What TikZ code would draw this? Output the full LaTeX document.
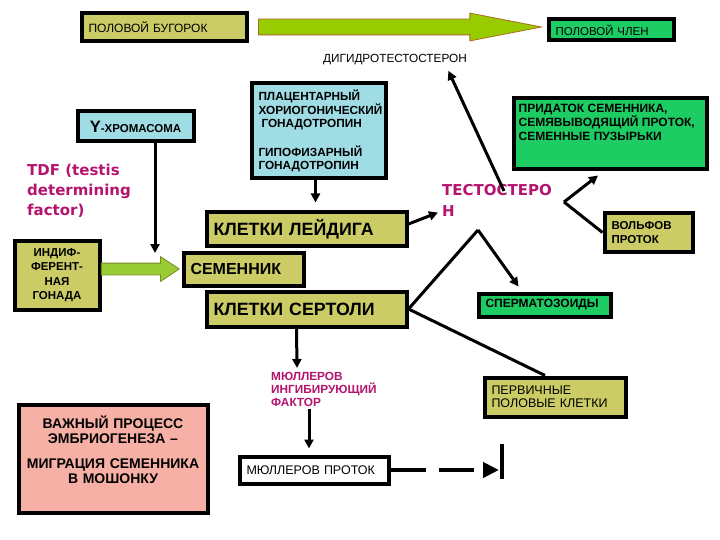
\documentclass[tikz,border=0pt]{standalone}
\usepackage{fontspec}
\setmainfont{Liberation Sans}
\newfontfamily\tdffont{DejaVu Sans}
\usepackage{tikz}
\usetikzlibrary{arrows.meta,shapes.arrows,positioning,calc}

\definecolor{olivefill}{RGB}{204,204,102}
\definecolor{greenfill}{RGB}{30,204,100}
\definecolor{bluefill}{RGB}{160,220,228}
\definecolor{pinkfill}{RGB}{247,176,166}
\definecolor{limefill}{RGB}{153,204,0}
\definecolor{limeedge}{RGB}{170,110,30}
\definecolor{gonfill}{RGB}{153,204,51}
\definecolor{gonedge}{RGB}{120,140,40}
\definecolor{magtxt}{RGB}{180,20,110}

\begin{document}
\begin{tikzpicture}[
        x=1pt, y=-1pt,
        box/.style={draw, line width=4pt, inner xsep=7pt, inner ysep=2pt, align=left, font=\bfseries\fontsize{11}{13}\selectfont},
        olivebox/.style={box, fill=olivefill},
        greenbox/.style={box, fill=greenfill},
        bluebox/.style={box, fill=bluefill},
        pinkbox/.style={box, fill=pinkfill},
        whitebox/.style={box, fill=white},
        magtext/.style={text=magtxt, inner sep=0pt, align=left},
        fatarrow/.style={single arrow, line width=0.8pt, single arrow head indent=0pt, inner xsep=0pt, anchor=east},
        arr/.style={-{Triangle[length=9pt,width=9pt]}, line width=3pt},
        link/.style={line width=3pt},
    ]

        \fill[white] (0,0) rectangle (720,540);

        % top row
        \node[olivebox, minimum width=165pt, minimum height=28pt, text width=151pt, font=\fontsize{12}{14}\selectfont] (bug) at (164,27.5) {ПОЛОВОЙ БУГОРОК};
        \node[greenbox, minimum width=125pt, minimum height=21pt, text width=111pt, font=\fontsize{11.5}{13}\selectfont] (chlen) at (611,30) {ПОЛОВОЙ ЧЛЕН};
        \node[fatarrow, draw=limeedge, fill=limefill, minimum height=283pt, minimum width=27pt, single arrow head extend=6pt, single arrow tip angle=22, inner ysep=7.5pt] (dharrow) at ($(chlen.west)+(-3,-3)$) {};
        \node[font=\fontsize{11.8}{13}\selectfont] (dht) at (395,60) {ДИГИДРОТЕСТОСТЕРОН};

        % left column
        \node[bluebox, minimum width=116pt, minimum height=30pt, text width=102pt, align=center] (ychr) at (135.5,126.5) {{\fontsize{16.5}{17}\selectfont Y}{\fontsize{11.5}{12}\selectfont -ХРОМАСОМА}};
        \node[magtext, font=\tdffont\bfseries\fontsize{15}{20}\selectfont, anchor=north west] (tdf) at (27,164) {TDF (testis\\determining\\factor)};
        \node[olivebox, minimum width=85pt, minimum height=69pt, text width=71pt, align=center, font=\bfseries\fontsize{11.5}{14.5}\selectfont] (gonad) at (57,275) {ИНДИФ-\\ФЕРЕНТ-\\НАЯ\\ГОНАДА};

        % testis and its cells
        \node[olivebox, minimum width=120pt, minimum height=33pt, text width=106pt, font=\bfseries\fontsize{16}{17}\selectfont] (semen) at (243.5,269) {СЕМЕННИК};
        \node[fatarrow, draw=gonedge, fill=gonfill, minimum height=78pt, minimum width=24pt, single arrow head extend=6.5pt, single arrow tip angle=67, inner ysep=5.5pt] (gonarrow) at ($(semen.west)+(-1.5,0)$) {};
        \node[olivebox, minimum width=200pt, minimum height=33pt, text width=186pt, font=\bfseries\fontsize{17.8}{19}\selectfont] (leydig) at (306.5,229) {КЛЕТКИ ЛЕЙДИГА};
        \node[olivebox, minimum width=200pt, minimum height=35pt, text width=186pt, font=\bfseries\fontsize{17.8}{19}\selectfont] (sertoli) at (306.5,309) {КЛЕТКИ СЕРТОЛИ};
        \node[bluebox, minimum width=134pt, minimum height=95pt, text width=120pt, font=\bfseries\fontsize{11.8}{13.5}\selectfont] (gtropin) at (318.5,131) {ПЛАЦЕНТАРНЫЙ\\ХОРИОГОНИЧЕСКИЙ\\\hspace*{3pt}ГОНАДОТРОПИН\\[15pt]ГИПОФИЗАРНЫЙ\\ГОНАДОТРОПИН};

        % right side
        \node[greenbox, minimum width=193pt, minimum height=71pt,
            label={[anchor=north west, xshift=7pt, yshift=-7pt, inner sep=0pt, align=left, font=\bfseries\fontsize{12}{14}\selectfont]north west:{ПРИДАТОК СЕМЕННИКА,\\СЕМЯВЫВОДЯЩИЙ ПРОТОК,\\СЕМЕННЫЕ ПУЗЫРЬКИ}}] (prid) at (610,134) {};
        \node[olivebox, minimum width=88pt, minimum height=38pt, text width=74pt, font=\bfseries\fontsize{11.5}{14}\selectfont] (wolff) at (648.5,232.5) {ВОЛЬФОВ\\ПРОТОК};
        \node[magtext, font=\tdffont\bfseries\fontsize{15}{21}\selectfont, anchor=north west] (testo) at (442,184) {ТЕСТОСТЕРО\\Н};
        \node[greenbox, minimum width=132pt, minimum height=23pt, text width=118pt, font=\bfseries\fontsize{12}{13}\selectfont] (sperm) at (544.5,305) {СПЕРМАТОЗОИДЫ};
        \node[olivebox, minimum width=141pt, minimum height=39pt, text width=127pt, font=\fontsize{12.5}{13.5}\selectfont] (pgc) at (555,397) {ПЕРВИЧНЫЕ\\ПОЛОВЫЕ КЛЕТКИ};

        % bottom
        \node[magtext, font=\bfseries\fontsize{11.8}{13}\selectfont, anchor=north west] (mif) at (271,372) {МЮЛЛЕРОВ\\ИНГИБИРУЮЩИЙ\\ФАКТОР};
        \node[whitebox, minimum width=149pt, minimum height=27pt, text width=135pt, font=\fontsize{12.5}{14}\selectfont] (muller) at (314,470) {МЮЛЛЕРОВ ПРОТОК};
        \node[pinkbox, minimum width=189pt, minimum height=108pt, text width=175pt, align=center, font=\bfseries\fontsize{14}{15.5}\selectfont] (migr) at (113,458.5) {ВАЖНЫЙ ПРОЦЕСС\\ЭМБРИОГЕНЕЗА –\\[9pt]МИГРАЦИЯ СЕМЕННИКА\\В МОШОНКУ\\[2pt]\mbox{}};

        \coordinate (yend) at (155,253);
        \coordinate (tfork) at (564,202);
        \coordinate (speak) at (478,230);
        \coordinate (stop) at (502,469);

        \draw[arr] (ychr.south -| yend) -- (yend);
        \draw[arr] ($(gtropin.south)+(-3,0)$) -- ($(gtropin.south |- leydig.north)+(-3,-8)$);
        \draw[arr] ($(leydig.east)+(0,-5)$) -- ($(testo.south west)+(-4,-4)$);
        \draw[arr] ($(testo.north west)+(62,7)$) -- ($(dht.south east)+(-22,2)$);
        \draw[link] (tfork) -- (wolff.west);
        \draw[arr] (tfork) -- ($(prid.south)+(-12,4)$);
        \draw[link] (sertoli.east) -- (speak);
        \draw[arr] (speak) -- ($(sperm.north)+(-26,-5)$);
        \draw[link] (sertoli.east) -- ($(pgc.north)+(-10,0)$);
        \draw[arr] ($(sertoli.south)+(-10,0)$) -- ($(mif.north west)+(26,-4)$);
        \draw[arr] ($(mif.south west)+(38,2)$) -- ($(muller.north)+(-5,-6)$);
        \draw[-{Triangle[length=16pt,width=15pt]}, line width=4.5pt, dash pattern=on 35pt off 13pt] (muller.east) -- ($(muller.east -| stop)+(-3,0)$);
        \draw[line width=4.5pt] ($(stop)+(0,-25)$) -- ($(stop)+(0,10)$);

    \end{tikzpicture}
\end{document}
